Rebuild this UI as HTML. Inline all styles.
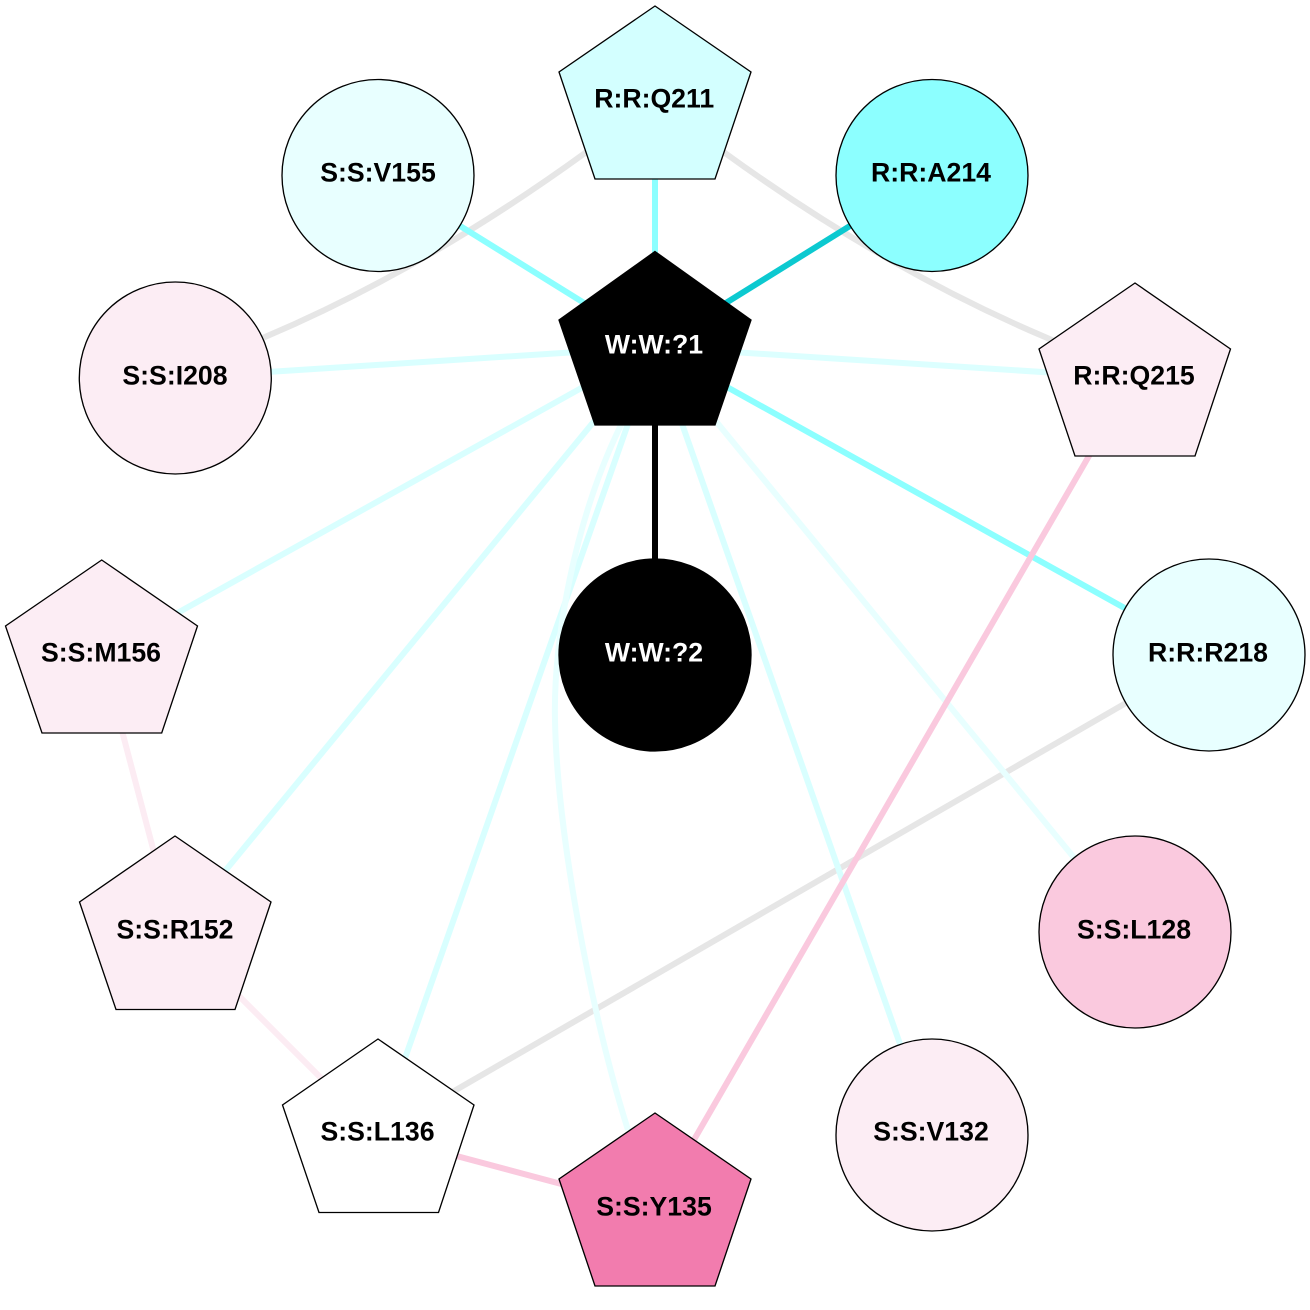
<!DOCTYPE html>
<html>
<head>
<meta charset="utf-8">
<style>
html,body{margin:0;padding:0;background:#fff;}
svg{display:block;}
text{font-family:"Liberation Sans",Arial,sans-serif;font-weight:bold;font-size:26.67px;text-anchor:middle;fill:#000;}
.n{stroke:#000;stroke-width:1.33;}
.e{fill:none;stroke-width:6;}
</style>
</head>
<body>
<svg width="1310" height="1310" viewBox="0 0 1310 1310" xmlns="http://www.w3.org/2000/svg">
<rect width="1310" height="1310" fill="#fff"/>
<!-- edges -->
<path class="e" stroke="#e6e6e6" d="M610 135L585 153Q425 269 265 337L240 348"/>
<path class="e" stroke="#e6e6e6" d="M700 135L725 153Q885 269 1045 337L1070 348"/>
<path class="e" stroke="#e6e6e6" d="M1209 655L378 1135"/>
<path class="e" stroke="#8cffff" d="M655 347L655 100"/>
<path class="e" stroke="#8cffff" d="M655 347L378 175"/>
<path class="e" stroke="#0cc9d0" d="M655 347L932 175"/>
<path class="e" stroke="#d9ffff" d="M655 347L175 378"/>
<path class="e" stroke="#dcffff" d="M655 347L1135 378"/>
<path class="e" stroke="#8cffff" d="M655 347L1209 655"/>
<path class="e" stroke="#d9ffff" d="M655 347L102 655"/>
<path class="e" stroke="#d9ffff" d="M655 347L175 932"/>
<path class="e" stroke="#d9ffff" d="M655 347L378 1135"/>
<path class="e" stroke="#e8ffff" d="M627 410L620 427C575 520 553 640 555 720C557 830 590 1010 628 1130"/>
<path class="e" stroke="#d9ffff" d="M655 347L932 1135"/>
<path class="e" stroke="#e8ffff" d="M655 347L1135 932"/>
<path class="e" stroke="#000" d="M655 347L655 655"/>
<path class="e" stroke="#fac9de" d="M1134 378L654 1209"/>
<path class="e" stroke="#fcecf3" d="M102 655L175 932"/>
<path class="e" stroke="#fcecf3" d="M175 932L378 1135"/>
<path class="e" stroke="#fac9de" d="M378 1135L655 1209"/>
<!-- nodes -->
<polygon class="n" fill="#d3ffff" points="655,6 751,72 715,179 595,179 559,72"/>
<circle class="n" fill="#e8ffff" cx="378" cy="175.5" r="96"/>
<circle class="n" fill="#8cffff" cx="932" cy="175.5" r="96"/>
<circle class="n" fill="#fcedf4" cx="175.3" cy="378" r="96"/>
<polygon class="n" fill="#000" points="655,251.5 751,320 715,425 595,425 559,320"/>
<polygon class="n" fill="#fcedf4" points="1135,283 1230.5,349 1195,456 1075,456 1039,349"/>
<polygon class="n" fill="#fcedf4" points="101.7,560 197.5,626 161.7,733 42,733 5.5,626"/>
<circle class="n" fill="#000" cx="655" cy="655" r="96"/>
<circle class="n" fill="#e8ffff" cx="1209" cy="655" r="96"/>
<polygon class="n" fill="#fcedf4" points="175,836 271,902 235,1009.5 116,1009.5 79.5,902"/>
<circle class="n" fill="#fac9de" cx="1135" cy="932" r="96"/>
<polygon class="n" fill="#fff" points="378,1039 474,1105 438.5,1212.5 319,1212.5 282.5,1105"/>
<circle class="n" fill="#fcedf4" cx="932" cy="1135" r="96"/>
<polygon class="n" fill="#f27cae" points="655,1113 751,1179 715,1286 595,1286 559,1179"/>
<!-- labels -->
<text x="654.2" y="107.5">R:R:Q211</text>
<text x="378" y="181.5">S:S:V155</text>
<text x="931" y="181.5">R:R:A214</text>
<text x="175" y="384.5">S:S:I208</text>
<text x="654" y="353.5" style="fill:#fff">W:W:?1</text>
<text x="1134" y="384.5">R:R:Q215</text>
<text x="101" y="661.5">S:S:M156</text>
<text x="654" y="661.5" style="fill:#fff">W:W:?2</text>
<text x="1208" y="661.5">R:R:R218</text>
<text x="175" y="938.5">S:S:R152</text>
<text x="1134" y="938.5">S:S:L128</text>
<text x="377.5" y="1140.5">S:S:L136</text>
<text x="931" y="1140.5">S:S:V132</text>
<text x="654" y="1215.5">S:S:Y135</text>
</svg>
</body>
</html>
